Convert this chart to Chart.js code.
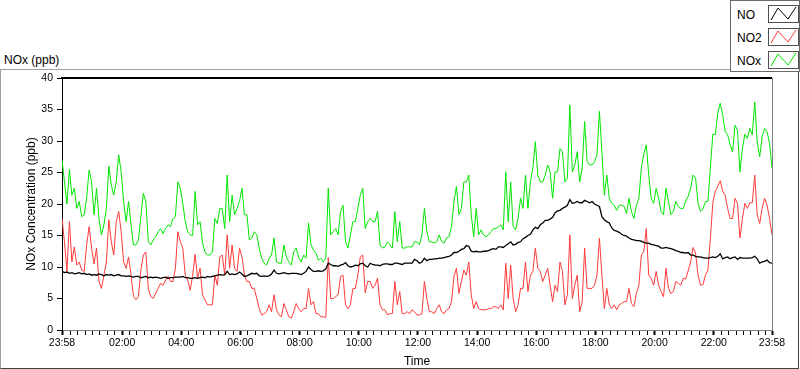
<!DOCTYPE html>
<html>
<head>
<meta charset="utf-8">
<script src="https://cdn.jsdelivr.net/npm/chart.js@4.4.1/dist/chart.umd.min.js"></script>
<style>
  body { margin: 0; background: #fff; font-family: "Liberation Sans", Arial, sans-serif; }
  #wrap { position: relative; width: 800px; height: 369px; overflow: hidden; }
  #frame { position: absolute; left: 0; top: 69px; width: 799px; height: 300px; box-sizing: border-box;
           border: 1px solid #a0a0a0; border-right-color: #404040; border-bottom-color: #404040; }
  #graph { position: absolute; left: 0; top: 0; z-index: 1; }
  #caption { position: absolute; left: 4px; top: 53px; font-size: 12px; color: #000; }
  #legend { position: absolute; left: 730px; top: 0; width: 70px; height: 72px; box-sizing: border-box;
            border: 1px solid #6a6a6a; background: #fff; z-index: 2; }
  .item { position: absolute; left: 0; width: 70px; height: 20px; }
  .item span { position: absolute; left: 6px; top: 3px; font-size: 12px; color: #000; }
  .item svg { position: absolute; left: 37px; top: 0; }
</style>
</head>
<body>
<div id="wrap">
  <div id="frame"></div>
  <div id="caption">NOx (ppb)</div>
  <canvas id="graph" width="800" height="369"></canvas>
  <div id="legend"></div>
</div>
<script>
// minutes after the 23:58 start, one reading every 5 minutes
const STEP = 5;
const TIMES = Array.from({length: 289}, (_, i) => i * STEP);

const MAJOR_TICKS = [0, 122, 242, 362, 482, 602, 722, 842, 962, 1082, 1202, 1322, 1440];
const MAJOR_LABELS = ['23:58', '02:00', '04:00', '06:00', '08:00', '10:00', '12:00',
                      '14:00', '16:00', '18:00', '20:00', '22:00', '23:58'];

const NO = [
  9.3, 9.1, 9.2, 9.0, 9.1, 8.9, 9.0, 9.1, 8.9, 9.0, 8.8, 8.9,
  8.7, 8.8, 8.7, 8.9, 8.8, 8.6, 8.8, 8.7, 8.8, 8.6, 8.7, 8.8,
  8.6, 8.6, 8.5, 8.6, 8.5, 8.4, 8.5, 8.5, 8.3, 8.4, 8.5, 8.3,
  8.4, 8.3, 8.4, 8.3, 8.2, 8.3, 8.4, 8.2, 8.3, 8.3, 8.4, 8.4,
  8.4, 8.5, 8.3, 8.3, 8.2, 8.2, 8.3, 8.2, 8.3, 8.4, 8.3, 8.5,
  8.4, 8.5, 8.6, 8.7, 8.8, 8.7, 8.8, 9.3, 8.8, 8.9, 8.8, 8.9,
  9.2, 8.9, 8.5, 8.6, 8.8, 9.0, 8.9, 9.0, 8.6, 8.5, 8.6, 8.5,
  8.6, 8.9, 9.5, 9.0, 8.9, 9.0, 9.1, 9.0, 8.9, 9.0, 9.0, 9.0,
  8.9, 8.8, 9.0, 9.3, 10.0, 9.6, 9.3, 9.3, 9.4, 9.3, 9.4, 9.7,
  10.6, 10.4, 10.2, 10.2, 10.1, 10.3, 10.4, 10.7, 10.2, 10.0, 10.1, 10.3,
  10.2, 10.5, 10.6, 10.2, 10.0, 10.6, 10.4, 10.3, 10.3, 10.2, 10.4, 10.5,
  10.5, 10.4, 10.4, 10.6, 10.6, 10.5, 10.4, 10.6, 10.6, 10.6, 10.6, 11.2,
  11.0, 10.6, 10.8, 11.4, 11.0, 11.2, 11.2, 11.3, 11.3, 11.4, 11.4, 11.5,
  11.6, 11.7, 11.9, 12.3, 12.3, 12.5, 12.8, 12.9, 13.4, 13.3, 12.5, 12.4,
  12.5, 12.4, 12.4, 12.5, 12.5, 12.6, 12.8, 12.9, 12.8, 13.2, 13.2, 13.1,
  13.4, 13.7, 14.0, 13.5, 13.6, 13.9, 14.0, 14.5, 14.7, 15.0, 15.2, 15.9,
  16.3, 16.1, 16.7, 17.0, 17.4, 17.4, 17.6, 17.9, 18.6, 18.9, 19.0, 19.3,
  19.5, 19.8, 20.7, 20.1, 20.2, 20.4, 20.2, 20.2, 20.6, 20.4, 20.2, 20.4,
  20.0, 19.8, 19.6, 18.0, 17.5, 17.2, 17.0, 16.2, 15.8, 15.7, 15.5, 15.2,
  15.0, 14.9, 14.6, 14.4, 14.3, 14.2, 14.2, 14.1, 13.9, 13.8, 13.8, 13.6,
  13.5, 13.4, 13.3, 13.0, 13.0, 13.1, 13.0, 12.9, 12.8, 12.6, 12.5, 12.3,
  12.3, 12.2, 12.3, 11.9, 11.9, 11.7, 11.6, 11.6, 11.5, 11.4, 11.4, 11.5,
  11.6, 11.5, 11.7, 12.1, 11.3, 11.5, 11.6, 11.3, 11.5, 11.6, 11.2, 11.5,
  11.4, 11.4, 11.4, 11.4, 11.5, 11.7, 11.3, 10.6, 10.8, 10.9, 11.1, 10.7,
  10.6
];

const NO2 = [
  17.7, 14.0, 9.3, 17.2, 10.8, 13.2, 10.3, 10.8, 9.5, 9.3, 13.5, 16.4,
  13.0, 10.5, 13.0, 7.7, 6.6, 8.7, 10.8, 17.5, 14.0, 11.9, 17.2, 18.8,
  15.6, 10.8, 9.8, 11.6, 8.7, 5.3, 4.8, 5.3, 9.5, 11.9, 12.4, 6.6,
  5.3, 5.0, 5.8, 6.6, 7.4, 7.1, 7.9, 8.5, 7.7, 7.7, 9.8, 15.6,
  14.0, 13.0, 8.7, 7.9, 6.3, 8.7, 12.0, 8.2, 9.8, 5.6, 4.8, 4.0,
  4.0, 4.0, 8.7, 7.1, 11.6, 11.9, 8.7, 15.1, 9.8, 13.5, 9.8, 9.3,
  13.0, 11.6, 8.7, 7.7, 7.7, 6.6, 6.6, 5.0, 3.4, 2.4, 2.6, 2.9,
  4.0, 2.9, 5.6, 3.2, 2.4, 2.1, 4.2, 3.2, 2.1, 1.9, 2.9, 4.2,
  3.4, 2.9, 3.4, 3.4, 6.6, 4.0, 4.5, 2.6, 2.6, 2.1, 2.1, 2.0,
  11.5, 5.0, 5.0, 5.3, 5.6, 8.5, 8.7, 4.0, 3.4, 4.0, 6.6, 6.6,
  8.7, 11.6, 11.9, 5.9, 7.7, 7.7, 6.6, 7.1, 8.2, 4.0, 3.2, 3.2,
  2.4, 2.6, 2.6, 7.7, 4.0, 6.1, 2.6, 2.6, 2.9, 2.6, 3.2, 2.9,
  2.4, 2.4, 2.6, 7.7, 5.0, 2.9, 2.9, 2.6, 3.4, 4.0, 2.9, 2.6,
  3.2, 3.4, 4.5, 8.5, 9.8, 5.8, 7.7, 9.5, 8.7, 10.8, 5.6, 3.4,
  4.5, 3.4, 3.2, 3.2, 3.2, 3.4, 3.4, 3.7, 3.7, 3.4, 4.0, 3.2,
  10.6, 5.0, 10.3, 5.0, 2.9, 4.0, 6.6, 6.6, 10.8, 6.1, 8.7, 9.3,
  13.0, 9.8, 9.3, 7.7, 8.7, 9.8, 7.1, 4.5, 7.1, 6.1, 10.8, 9.3,
  4.0, 5.6, 15.1, 5.0, 7.1, 8.7, 2.9, 4.5, 13.0, 6.6, 6.6, 6.6,
  7.1, 8.7, 14.6, 8.7, 3.4, 6.6, 4.0, 3.4, 4.0, 3.2, 4.0, 4.2,
  4.5, 4.5, 6.6, 4.2, 3.7, 5.8, 7.1, 11.9, 12.4, 16.1, 8.7, 8.2,
  7.1, 9.3, 7.1, 6.1, 5.3, 9.8, 6.6, 5.8, 6.1, 7.7, 7.4, 7.1,
  8.2, 8.1, 9.4, 10.8, 13.1, 12.2, 8.7, 7.1, 7.2, 8.7, 9.5, 14.5,
  20.2, 22.0, 22.8, 23.7, 22.0, 21.4, 19.3, 17.7, 17.7, 20.9, 20.1, 14.6,
  17.7, 20.1, 19.3, 20.2, 20.2, 24.6, 18.3, 16.9, 19.3, 20.9, 19.8, 17.7,
  15.1
];

const NOX = [
  27.0, 23.5, 20.0, 25.5, 21.4, 22.5, 19.3, 20.4, 18.0, 18.3, 21.0, 25.4,
  23.5, 18.3, 22.5, 17.7, 15.1, 16.7, 19.3, 26.0, 23.0, 21.4, 23.5, 27.8,
  25.1, 20.4, 17.2, 20.4, 16.7, 13.5, 13.5, 14.3, 18.0, 21.7, 20.4, 14.0,
  13.5, 14.3, 14.8, 15.6, 16.1, 15.3, 16.1, 16.7, 16.4, 17.7, 18.0, 23.5,
  22.5, 20.1, 17.2, 15.6, 15.1, 15.0, 22.0, 16.7, 17.2, 13.8, 12.4, 11.9,
  11.9, 12.4, 17.7, 16.9, 19.3, 19.3, 16.1, 24.6, 17.2, 21.4, 18.3, 19.3,
  20.4, 22.5, 18.3, 18.3, 14.3, 14.6, 15.6, 15.1, 13.0, 11.4, 10.6, 10.3,
  11.4, 11.9, 14.6, 10.8, 10.6, 10.6, 13.5, 11.6, 10.8, 10.3, 12.4, 13.0,
  11.5, 10.8, 11.9, 11.4, 17.0, 13.5, 12.7, 12.2, 11.1, 11.4, 10.8, 11.4,
  22.5, 15.1, 15.6, 16.1, 15.1, 18.8, 19.8, 14.0, 13.0, 15.1, 17.2, 17.2,
  19.3, 21.4, 22.5, 16.1, 17.2, 17.7, 17.2, 17.2, 18.8, 13.5, 13.0, 13.2,
  14.0, 13.5, 13.0, 18.8, 14.0, 17.2, 13.0, 13.0, 13.2, 13.2, 13.2, 14.0,
  14.0, 13.5, 15.1, 19.3, 15.6, 14.0, 14.0, 13.8, 14.0, 15.1, 14.0, 13.8,
  14.6, 14.8, 16.4, 20.4, 22.8, 18.3, 19.3, 23.5, 23.5, 24.6, 18.3, 14.8,
  19.3, 15.1, 15.9, 15.1, 14.8, 15.1, 15.6, 16.1, 16.1, 16.4, 16.7, 15.9,
  25.1, 17.2, 23.5, 16.4, 15.9, 17.7, 20.9, 19.3, 24.6, 19.3, 23.5, 25.7,
  29.9, 24.6, 23.5, 23.5, 24.6, 26.2, 25.1, 20.9, 25.1, 25.1, 28.8, 28.3,
  23.5, 24.1, 35.7, 25.1, 26.2, 28.3, 23.5, 25.7, 33.1, 26.7, 26.2, 26.2,
  26.7, 27.8, 34.7, 28.3, 21.4, 24.6, 20.9, 20.1, 19.8, 19.0, 19.8, 19.8,
  19.6, 18.5, 20.9, 18.8, 17.7, 19.8, 20.9, 25.7, 28.0, 29.4, 24.6, 20.9,
  20.1, 22.5, 20.9, 18.8, 18.3, 22.5, 20.4, 18.3, 18.8, 20.4, 19.6, 19.3,
  19.3, 20.5, 21.2, 22.5, 24.6, 24.1, 20.1, 18.8, 19.2, 20.4, 20.4, 25.7,
  31.1, 31.0, 34.4, 36.0, 34.1, 31.5, 31.0, 29.4, 28.3, 32.5, 31.7, 25.1,
  28.8, 31.1, 30.4, 32.0, 31.0, 36.2, 29.9, 27.5, 30.7, 32.0, 31.5, 29.6,
  25.7
];

const SERIES = [
  {name: 'NO', data: NO, color: '#000000', width: 1.3},
  {name: 'NO2', data: NO2, color: '#ff3a3a', width: 1},
  {name: 'NOx', data: NOX, color: '#00e600', width: 1}
];

// legend boxes like the original front panel
const legend = document.getElementById('legend');
SERIES.forEach((s, i) => {
  const row = document.createElement('div');
  row.className = 'item';
  row.style.top = (4 + i * 23) + 'px';
  row.innerHTML = '<span>' + s.name + '</span>' +
    '<svg width="31" height="18"><rect x="0.5" y="0.5" width="30" height="17" fill="#fff" stroke="#505050"/>' +
    '<polyline points="3,15 10,3 20,14 28,2" fill="none" stroke="' + s.color + '" stroke-width="1"/></svg>';
  legend.appendChild(row);
});

// minor ticks every quarter hour, major ones every two hours
const xTicks = [0];
for (let t = 2; t < 1440; t += 15) xTicks.push(t);
xTicks.push(1440);

const isMajor = v => MAJOR_TICKS.includes(v);

const plotFrame = {
  id: 'plotFrame',
  afterDraw(chart) {
    const {ctx, chartArea: a} = chart;
    ctx.save();
    ctx.strokeStyle = '#000';
    ctx.lineWidth = 2;
    ctx.beginPath();
    ctx.moveTo(a.left - 1, a.top);
    ctx.lineTo(a.right, a.top);
    ctx.stroke();
    ctx.strokeStyle = '#808080';
    ctx.lineWidth = 1;
    ctx.beginPath();
    ctx.moveTo(a.right + 0.5, a.top);
    ctx.lineTo(a.right + 0.5, a.bottom + 1);
    ctx.stroke();
    ctx.restore();
  }
};

const tickFont = {family: '"Liberation Sans", Arial, sans-serif', size: 10.5};
const titleFont = {family: '"Liberation Sans", Arial, sans-serif', size: 12};

new Chart(document.getElementById('graph').getContext('2d'), {
  type: 'line',
  data: {
    labels: TIMES,
    datasets: SERIES.map((s, i) => ({
      label: s.name,
      data: s.data,
      borderColor: s.color,
      borderWidth: s.width,
      pointRadius: 0,
      tension: 0,
      fill: false,
      order: i
    }))
  },
  plugins: [plotFrame],
  options: {
    responsive: false,
    animation: false,
    devicePixelRatio: 1,
    layout: {padding: {left: 0, top: 78, right: 28, bottom: 0}},
    plugins: {legend: {display: false}, tooltip: {enabled: false}},
    scales: {
      x: {
        type: 'linear',
        min: 0,
        max: 1440,
        afterFit: scale => { scale.height = 39; },
        afterBuildTicks: scale => { scale.ticks = xTicks.map(v => ({value: v})); },
        border: {color: '#808080', width: 1},
        grid: {
          drawOnChartArea: false,
          tickLength: 5,
          tickColor: '#000',
          tickWidth: ctx => (ctx.tick && isMajor(ctx.tick.value)) ? 2 : 1
        },
        ticks: {
          autoSkip: false,
          maxRotation: 0,
          minRotation: 0,
          padding: 2,
          color: '#000',
          font: tickFont,
          callback: v => isMajor(v) ? MAJOR_LABELS[MAJOR_TICKS.indexOf(v)] : ''
        },
        title: {display: true, text: 'Time', color: '#000', font: titleFont, padding: {top: 0, bottom: 0}}
      },
      y: {
        min: 0,
        max: 40,
        afterFit: scale => { scale.width = 62; },
        border: {color: '#000', width: 1},
        grid: {drawOnChartArea: false, tickLength: 5, tickColor: '#000'},
        ticks: {stepSize: 5, padding: 4, color: '#000', font: tickFont},
        title: {display: true, text: 'NOx Concentration (ppb)', color: '#000', font: titleFont,
                padding: {top: 24, bottom: 0}}
      }
    }
  }
});
</script>
</body>
</html>
